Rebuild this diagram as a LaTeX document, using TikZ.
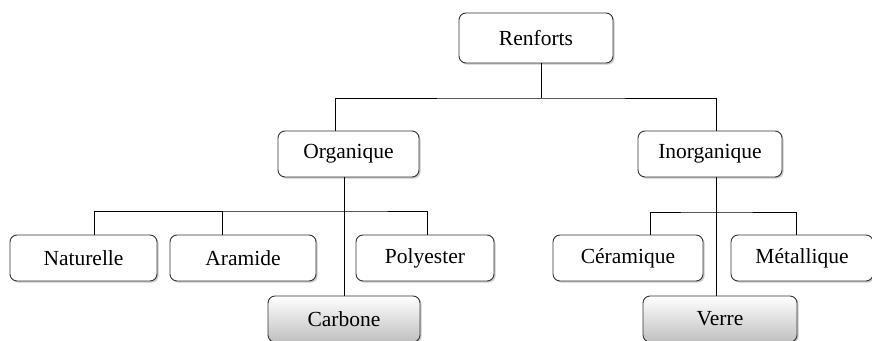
\documentclass[tikz,border=0pt]{standalone}
\usepackage{fontspec}
\setmainfont{Liberation Serif}
\usetikzlibrary{shadows,calc}
\begin{document}
\begin{tikzpicture}[x=1pt,y=-1pt,
  box/.style={draw=black!80, line width=0.9pt, rounded corners=7pt, fill=white, inner sep=0pt,
    font=\fontsize{21.5}{24}\selectfont,
    drop shadow={shadow xshift=1.6pt, shadow yshift=-1.6pt, fill=black!35, opacity=0.6}},
  gbox/.style={box, top color=white, bottom color=black!25},
  conn/.style={draw=black, line width=0.9pt}]
\useasboundingbox (0,0) rectangle (872,340);
\clip (0,0) rectangle (872,340);
\coordinate (b0) at (0,98);
\coordinate (b1) at (0,211);
\coordinate (b2) at (0,212);
\node[box, minimum width=154pt, minimum height=50pt] (ren) at (536,38) {Renforts};
\node[box, minimum width=141pt, minimum height=46pt] (org) at (348.5,154) {Organique};
\node[box, minimum width=144pt, minimum height=46pt] (ino) at (710,154) {Inorganique};
\node[box, minimum width=147pt, minimum height=46pt] (nat) at (83.5,258) {Naturelle};
\node[box, minimum width=146pt, minimum height=46pt] (ara) at (243,258) {Aramide};
\node[box, minimum width=138pt, minimum height=46pt] (pol) at (425,258) {Polyester};
\node[box, minimum width=150pt, minimum height=46pt] (cer) at (628,258) {Céramique};
\node[box, minimum width=142pt, minimum height=46pt] (met) at (802,258) {Métallique};
\node[gbox, minimum width=152pt, minimum height=46pt] (car) at (344,319) {Carbone};
\node[gbox, minimum width=154pt, minimum height=46pt] (ver) at (720,319) {Verre};
% bus from Renforts
\draw[conn] ([xshift=5pt]ren.south) -- ([xshift=5pt]ren.south |- b0);
\draw[conn] ([xshift=-13.5pt]org.north) |- (b0 -| ren.south) -| ([xshift=6pt]ino.north);
% Organique
\draw[conn] ([xshift=-4.5pt]org.south) -- (car.north);
\draw[conn] ([xshift=10.5pt]nat.north) |- (b1 -| org.south) -| ([xshift=2pt]pol.north);
\draw[conn] ([xshift=-21pt]ara.north) -- ([xshift=-21pt]ara.north |- b1);
% Inorganique
\draw[conn] ([xshift=6pt]ino.south) -- ([xshift=-4pt]ver.north);
\draw[conn] ([xshift=22pt]cer.north) |- (b2 -| ino.south) -| ([xshift=-6pt]met.north);
\end{tikzpicture}
\end{document}
